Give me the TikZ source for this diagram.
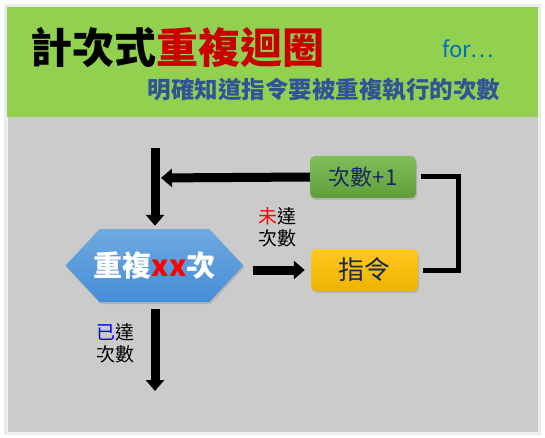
\documentclass[tikz,border=0pt]{standalone}
\usepackage{fontspec}
\setmainfont{Noto Sans CJK TC}
\usetikzlibrary{arrows.meta,shapes.symbols,shadows}
\definecolor{bggreen}{RGB}{146,208,80}
\definecolor{bggray}{RGB}{203,203,203}
\definecolor{titlered}{RGB}{200,0,0}
\definecolor{forblue}{RGB}{0,112,192}
\definecolor{subblue}{RGB}{47,85,151}
\definecolor{navy}{RGB}{25,40,90}
\definecolor{hextop}{RGB}{110,170,225}
\definecolor{hexbot}{RGB}{70,140,215}
\definecolor{grtop}{RGB}{128,190,90}
\definecolor{grbot}{RGB}{95,158,58}
\definecolor{ortop}{RGB}{255,200,30}
\definecolor{orbot}{RGB}{236,180,0}
\tikzset{
  bigarrow/.style={line width=9pt,-{Triangle[width=18pt 0 0,length=11pt 0 0]}},
  bracketline/.style={line width=5pt},
  boxnode/.style={rounded corners=5pt,minimum width=106pt,minimum height=42pt,text=navy,
    drop shadow={opacity=0.3,shadow xshift=1pt,shadow yshift=-2pt}},
  lbl/.style={font=\fontsize{19}{22}\selectfont,align=center,text=black},
}
\begin{document}
\begin{tikzpicture}[x=1pt,y=-1pt]
\useasboundingbox (0,0) rectangle (545,438);
\fill[white] (0,0) rectangle (545,438);
\fill[black!8] (4,4) rectangle (541,435);
\fill[bggreen] (7,7) rectangle (538,117);
\fill[bggray] (7,117) rectangle (538,432);
\draw[white!80!bggray,line width=1pt] (7.5,117) -- (7.5,432) -- (537.5,432);

\node[anchor=west,inner sep=0pt,font=\fontsize{42}{44}\selectfont\bfseries] (title) at (30,48)
  {計次式\textcolor{titlered}{重複迴圈}};
\node[text=forblue,font=\fontsize{22}{24}\selectfont,inner sep=0pt] (for) at (468,49) {for⋯};
\node[text=subblue,font=\fontsize{23.5}{26}\selectfont\bfseries,inner sep=0pt] (sub) at (324,90)
  {明確知道指令要被重複執行的次數};

\node[signal,signal to=west and east,signal pointer angle=94,minimum height=73pt,
  inner xsep=-6pt,inner ysep=0pt,top color=hextop,bottom color=hexbot,draw=none,
  drop shadow={opacity=0.3,shadow xshift=1pt,shadow yshift=-2pt},
  font=\fontsize{29}{30}\selectfont\bfseries,text=white] (hex) at (154.5,265.5)
  {重複\textcolor{red}{xx}次};

\node[boxnode,top color=grtop,bottom color=grbot,font=\fontsize{22}{24}\selectfont] (inc) at (363,177) {次數+1};
\node[boxnode,minimum width=107pt,top color=ortop,bottom color=orbot,font=\fontsize{26}{28}\selectfont] (instr) at (364.5,270) {指令};

\coordinate (top) at (155,148);
\coordinate (join) at (155,178);
\coordinate (bot) at (155,391);

\draw[bigarrow,shorten >=3pt] (top) -- (hex.north -| top);
\draw[bigarrow,shorten >=6pt] (inc.west) -- (join);
\draw[bigarrow,shorten <=9pt,shorten >=6pt] (hex.east |- instr.west) -- (instr.west);
\draw[bigarrow,shorten <=7pt] (hex.south -| bot) -- (bot);
\draw[bracketline,shorten <=5pt,shorten >=5pt] (inc.east) -- ++(42,0) |- (instr.east);

\node[lbl] (lbl1) at (277,227) {\textcolor{red}{未}達\\次數};
\node[lbl] (lbl2) at (115,343) {\textcolor{blue}{已}達\\次數};
\end{tikzpicture}
\end{document}
